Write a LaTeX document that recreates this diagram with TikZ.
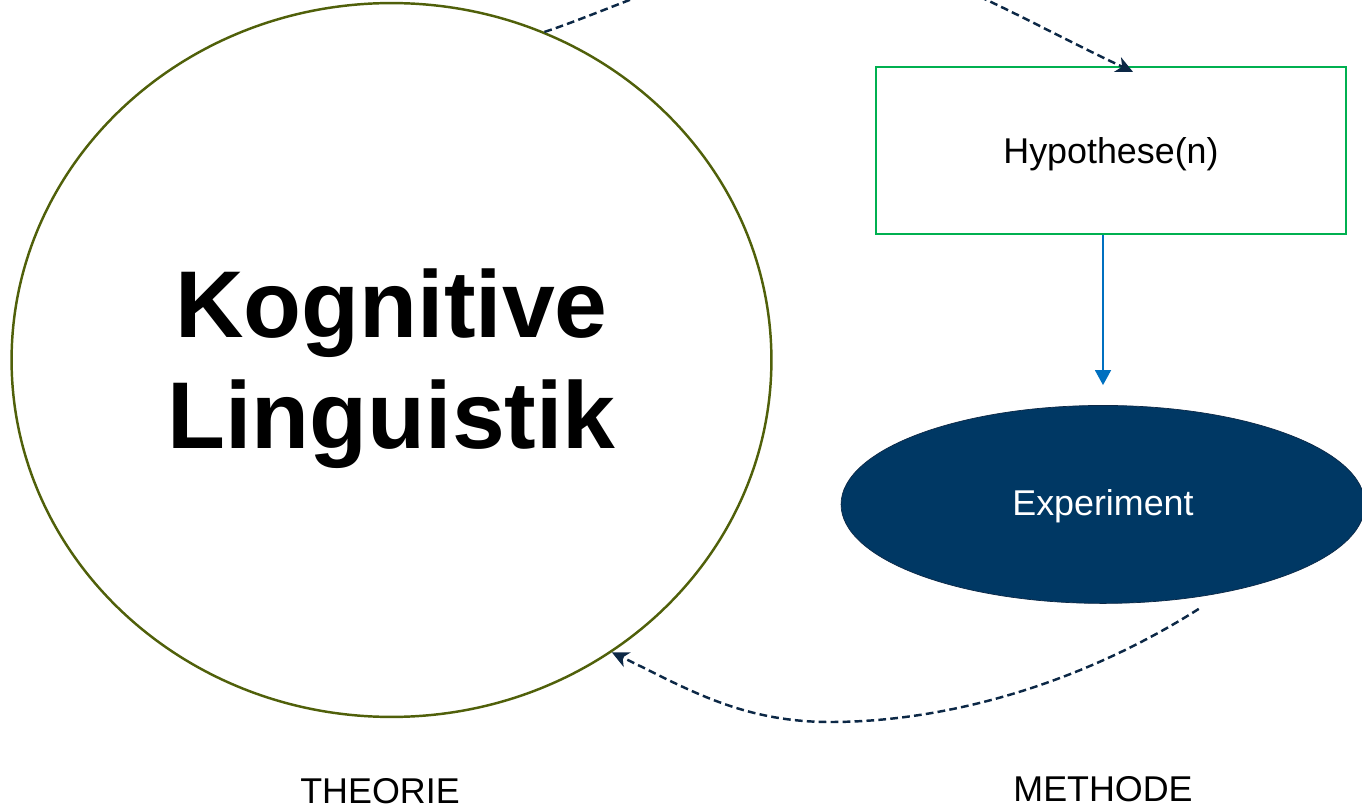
\documentclass[tikz,border=0pt]{standalone}
\usepackage{fontspec}
\setmainfont{Liberation Sans}
\usetikzlibrary{arrows.meta,positioning,shapes.geometric}
\definecolor{theoolive}{RGB}{80,96,10}
\definecolor{hypogreen}{RGB}{0,176,80}
\definecolor{flowblue}{RGB}{0,112,192}
\definecolor{expnavy}{RGB}{0,56,100}
\definecolor{loopnavy}{RGB}{12,40,70}
\tikzset{
  klcircle/.style={
    draw=theoolive,
    line width=1.4pt,
    ellipse,
    minimum width=15.2cm,
    minimum height=14.28cm
  },
  kltitle/.style={
    align=center,
    font=\bfseries\fontsize{54}{63}\selectfont
  },
  klbox/.style={
    draw=hypogreen,
    line width=1.3pt,
    minimum width=9.4cm,
    minimum height=3.34cm,
    font=\fontsize{20.4}{24}\selectfont
  },
  klexp/.style={
    ellipse,
    draw=loopnavy,
    fill=expnavy,
    text=white,
    minimum width=10.48cm,
    minimum height=3.96cm,
    font=\fontsize{20.4}{24}\selectfont
  },
  kllabel/.style={anchor=base,font=\fontsize{20.4}{24}\selectfont},
  klloop/.style={-{Stealth[length=3.4mm,width=3.2mm,inset=1mm]},loopnavy,line width=1.4pt,
    dash pattern=on 4.4pt off 2.4pt},
  klarrow/.style={-{Triangle[length=3mm,width=3.2mm]},flowblue,line width=0.9pt}
}
\begin{document}
\begin{tikzpicture}[x=0.02cm,y=-0.02cm]
  \useasboundingbox (0,0) rectangle (1362,807);
  \node[klcircle] (theo) at (391.5,360) {};
  \node[kltitle] (theotitle) at ([yshift=-0.18cm]theo.center) {Kognitive\\Linguistik};
  \node[klbox] (hypo) at (1111,150.5) {\raisebox{-0.27cm}[0pt][0pt]{Hypothese(n)}};
  \node[klexp,below=3.4cm of hypo,xshift=-1.6mm] (exp) {\raisebox{-0.23cm}[0pt][0pt]{Experiment}};
  \node[kllabel] (theolabel) at (380,803) {THEORIE};
  \node[kllabel] (explabel) at (1103,801) {METHODE};
  \draw[klarrow] (exp.north |- hypo.south) -- ([yshift=4mm]exp.north);
  \draw[klloop] (theo.65.6) .. controls +(78,-26) and +(-100,0) .. (820,-45)
    .. controls +(100,0) and ([xshift=-2.26cm,yshift=1.16cm]hypo.north) .. ([xshift=4.4mm,yshift=-1.2mm]hypo.north);
  \draw[klloop] ([shift={(0,12)}]exp.-44) .. controls +(-115,73) and +(120,0) .. (830,722)
    .. controls +(-90,0) and +(73,35) .. (theo.-53.8);
\end{tikzpicture}
\end{document}
